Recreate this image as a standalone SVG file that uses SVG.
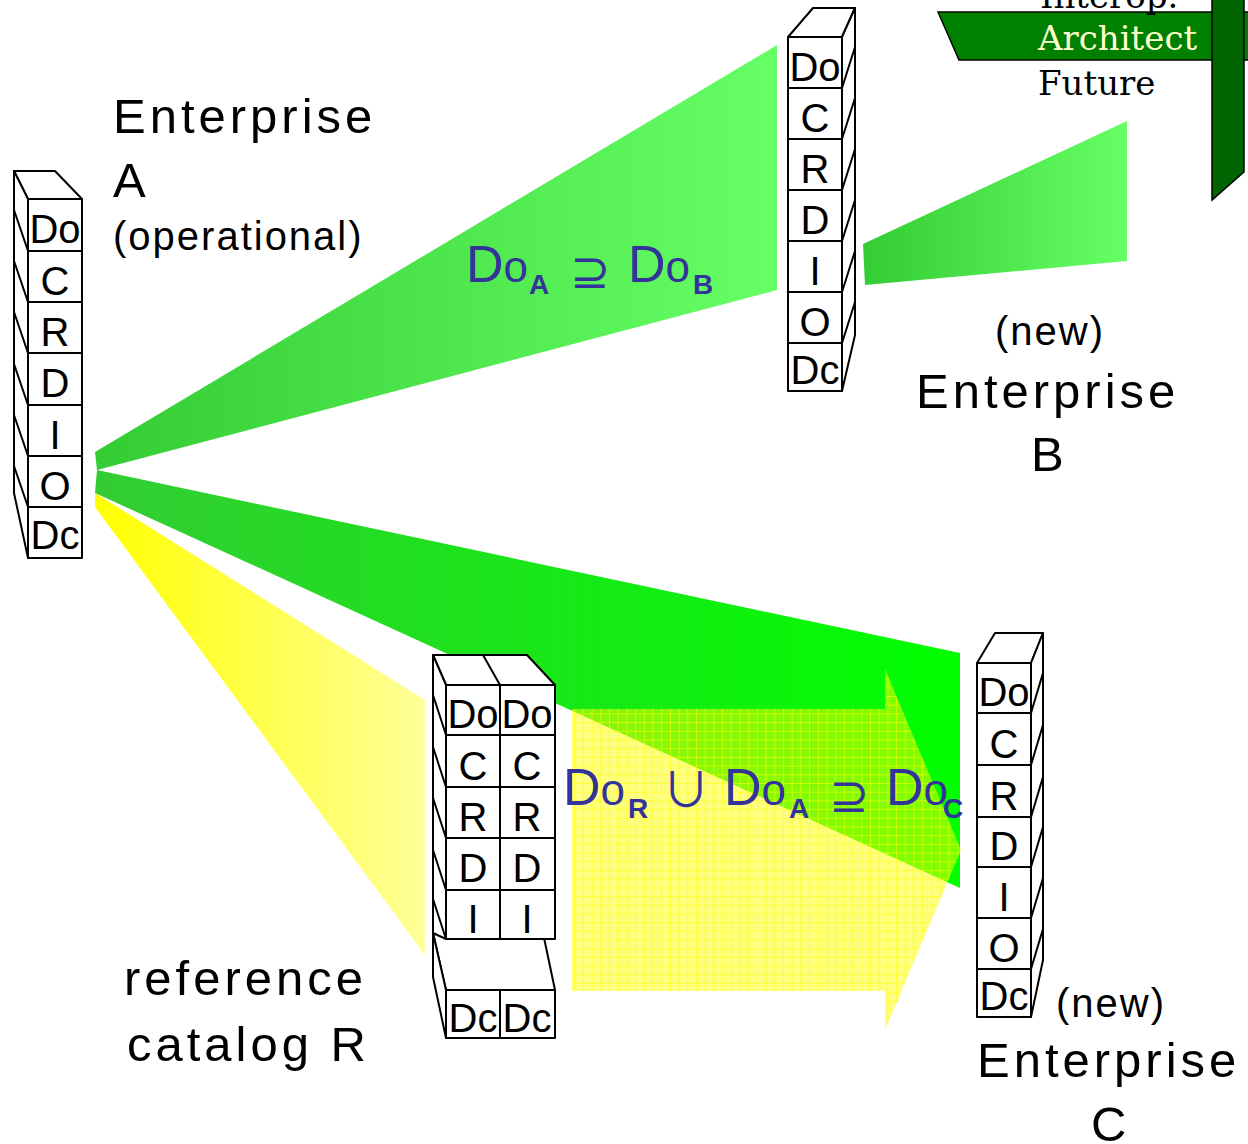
<svg xmlns="http://www.w3.org/2000/svg" width="1248" height="1144" viewBox="0 0 1248 1144">
  <defs>
    <linearGradient id="gAB" gradientUnits="userSpaceOnUse" x1="95" y1="0" x2="777" y2="0">
      <stop offset="0" stop-color="#33cc33"/>
      <stop offset="1" stop-color="#66ff66"/>
    </linearGradient>
    <linearGradient id="gAC" gradientUnits="userSpaceOnUse" x1="95" y1="0" x2="960" y2="0">
      <stop offset="0" stop-color="#33cc33"/>
      <stop offset="1" stop-color="#00ff00"/>
    </linearGradient>
    <linearGradient id="gAR" gradientUnits="userSpaceOnUse" x1="95" y1="0" x2="425" y2="0">
      <stop offset="0" stop-color="#ffff00"/>
      <stop offset="1" stop-color="#ffff99"/>
    </linearGradient>
    <linearGradient id="gBF" gradientUnits="userSpaceOnUse" x1="863" y1="0" x2="1127" y2="0">
      <stop offset="0" stop-color="#33cc33"/>
      <stop offset="1" stop-color="#66ff66"/>
    </linearGradient>
    <pattern id="grid" patternUnits="userSpaceOnUse" width="8.7" height="8.7">
      <rect width="8.7" height="8.7" fill="#ffff00" fill-opacity="0.5"/>
      <path d="M0 0.5H8.7M0.5 0V8.7" stroke="#ffff00" stroke-width="1" stroke-opacity="0.6" fill="none"/>
    </pattern>
  </defs>
  <style>
    .face { fill: #ffffff; stroke: #000000; stroke-width: 2; stroke-linejoin: round; }
    .ln { stroke: #000000; stroke-width: 2; fill: none; }
    .cl { font-family: "Liberation Sans", Arial, sans-serif; font-size: 40px; fill: #000000; text-anchor: middle; }
    .lbl { font-family: "Liberation Sans", Arial, sans-serif; font-size: 49px; fill: #000000; letter-spacing: 4px; }
    .sm { font-family: "Liberation Sans", Arial, sans-serif; font-size: 40px; fill: #000000; letter-spacing: 2px; }
    .fm { font-family: "Liberation Sans", Arial, sans-serif; font-size: 52px; fill: #333399; }
    .fo { font-size: 44px; }
    .sub { font-family: "Liberation Sans", Arial, sans-serif; font-size: 28px; font-weight: bold; fill: #333399; }
    .sym { font-family: "DejaVu Sans", sans-serif; font-size: 48px; fill: #333399; }
    .cup { font-family: "Noto Sans CJK JP", "DejaVu Sans", sans-serif; font-size: 48px; fill: #333399; }
    .ser { font-family: "DejaVu Serif", "Liberation Serif", serif; font-size: 34px; }
  </style>

  <rect width="1248" height="1144" fill="#ffffff"/>

  <!-- beams between the enterprises and the catalog -->
  <g id="connectors">
    <polygon id="beam-a-b" points="95,452 777,45 777,290 97,470" fill="url(#gAB)"/>
    <polygon id="beam-a-c" points="97,470 960,653 960,888 95,493" fill="url(#gAC)"/>
    <polygon id="beam-a-r" points="95,493 425,700 425,955 95,507" fill="url(#gAR)"/>
    <polygon id="beam-b-future" points="863,244 1127,121 1127,261 865,285" fill="url(#gBF)"/>
    <polygon id="arrow-r-c" points="572,709 885,709 885,669 961,850 885,1030 885,991 572,991" fill="url(#grid)"/>
  </g>

  <!-- Enterprise A stack, side face on the left -->
  <g id="stack-a">
    <polygon class="face" points="14,171 55,171 82,199 28,199"/>
    <polygon class="face" points="14,171 28,199 28,558 14,493"/>
    <path class="ln" d="M14,210L28,251M14,261L28,302M14,312L28,353M14,364L28,405M14,415L28,456M14,466L28,507"/>
    <rect class="face" x="28" y="199" width="54" height="52"/>
    <rect class="face" x="28" y="251" width="54" height="51"/>
    <rect class="face" x="28" y="302" width="54" height="51"/>
    <rect class="face" x="28" y="353" width="54" height="52"/>
    <rect class="face" x="28" y="405" width="54" height="51"/>
    <rect class="face" x="28" y="456" width="54" height="51"/>
    <rect class="face" x="28" y="507" width="54" height="51"/>
    <text class="cl" x="55" y="243">Do</text>
    <text class="cl" x="55" y="295">C</text>
    <text class="cl" x="55" y="346">R</text>
    <text class="cl" x="55" y="397">D</text>
    <text class="cl" x="55" y="449">I</text>
    <text class="cl" x="55" y="500">O</text>
    <text class="cl" x="55" y="549">Dc</text>
  </g>

  <!-- Enterprise B stack, side face on the right -->
  <g id="stack-b">
    <polygon class="face" points="788,37 813,8 855,8 842,37"/>
    <polygon class="face" points="842,37 855,8 855,335 842,391"/>
    <path class="ln" d="M842,88L855,47M842,139L855,98M842,190L855,149M842,241L855,200M842,292L855,251M842,343L855,302"/>
    <rect class="face" x="788" y="37" width="54" height="51"/>
    <rect class="face" x="788" y="88" width="54" height="51"/>
    <rect class="face" x="788" y="139" width="54" height="51"/>
    <rect class="face" x="788" y="190" width="54" height="51"/>
    <rect class="face" x="788" y="241" width="54" height="51"/>
    <rect class="face" x="788" y="292" width="54" height="51"/>
    <rect class="face" x="788" y="343" width="54" height="48"/>
    <text class="cl" x="815" y="81">Do</text>
    <text class="cl" x="815" y="132">C</text>
    <text class="cl" x="815" y="183">R</text>
    <text class="cl" x="815" y="234">D</text>
    <text class="cl" x="815" y="285">I</text>
    <text class="cl" x="815" y="336">O</text>
    <text class="cl" x="815" y="384">Dc</text>
  </g>

  <!-- Enterprise C stack, side face on the right -->
  <g id="stack-c">
    <polygon class="face" points="977,663 995,633 1043,633 1031,663"/>
    <polygon class="face" points="1031,663 1043,633 1043,960 1031,1017"/>
    <path class="ln" d="M1031,713L1043,673M1031,765L1043,725M1031,817L1043,777M1031,867L1043,827M1031,918L1043,878M1031,969L1043,929"/>
    <rect class="face" x="977" y="663" width="54" height="50"/>
    <rect class="face" x="977" y="713" width="54" height="52"/>
    <rect class="face" x="977" y="765" width="54" height="52"/>
    <rect class="face" x="977" y="817" width="54" height="50"/>
    <rect class="face" x="977" y="867" width="54" height="51"/>
    <rect class="face" x="977" y="918" width="54" height="51"/>
    <rect class="face" x="977" y="969" width="54" height="48"/>
    <text class="cl" x="1004" y="706">Do</text>
    <text class="cl" x="1004" y="758">C</text>
    <text class="cl" x="1004" y="810">R</text>
    <text class="cl" x="1004" y="860">D</text>
    <text class="cl" x="1004" y="911">I</text>
    <text class="cl" x="1004" y="962">O</text>
    <text class="cl" x="1004" y="1010">Dc</text>
  </g>

  <!-- reference catalog R: two columns, Dc box set apart below -->
  <g id="stack-r">
    <polygon class="face" points="433,933 543,933 555,990 446,990"/>
    <polygon class="face" points="433,933 446,990 446,1038 433,977"/>
    <rect class="face" x="446" y="990" width="54" height="48"/>
    <rect class="face" x="500" y="990" width="55" height="48"/>
    <text class="cl" x="473" y="1032">Dc</text>
    <text class="cl" x="527" y="1032">Dc</text>

    <polygon class="face" points="433,655 527,655 555,685 446,685"/>
    <line class="ln" x1="483" y1="655" x2="500" y2="685"/>
    <polygon class="face" points="433,655 446,685 446,939 433,933"/>
    <path class="ln" d="M433,695L446,735M433,747L446,787M433,798L446,838M433,850L446,890M433,899L446,939"/>
    <rect class="face" x="446" y="685" width="54" height="50"/>
    <rect class="face" x="500" y="685" width="55" height="50"/>
    <rect class="face" x="446" y="735" width="54" height="52"/>
    <rect class="face" x="500" y="735" width="55" height="52"/>
    <rect class="face" x="446" y="787" width="54" height="51"/>
    <rect class="face" x="500" y="787" width="55" height="51"/>
    <rect class="face" x="446" y="838" width="54" height="52"/>
    <rect class="face" x="500" y="838" width="55" height="52"/>
    <rect class="face" x="446" y="890" width="54" height="49"/>
    <rect class="face" x="500" y="890" width="55" height="49"/>
    <text class="cl" x="473" y="728">Do</text>
    <text class="cl" x="527" y="728">Do</text>
    <text class="cl" x="473" y="780">C</text>
    <text class="cl" x="527" y="780">C</text>
    <text class="cl" x="473" y="831">R</text>
    <text class="cl" x="527" y="831">R</text>
    <text class="cl" x="473" y="882">D</text>
    <text class="cl" x="527" y="882">D</text>
    <text class="cl" x="473" y="933">I</text>
    <text class="cl" x="527" y="933">I</text>
  </g>

  <!-- corner banner -->
  <g id="banner">
    <polygon points="938,12 1250,12 1250,60 959,60" fill="#008000" stroke="#000000" stroke-width="1.5"/>
    <polygon points="1212,-2 1244,-2 1244,172 1212,200" fill="#006400" stroke="#000000" stroke-width="1.5"/>
    <text class="ser" x="1040" y="8" fill="#000000">Interop.</text>
    <text class="ser" x="1038" y="50" fill="#ffffcc">Architect</text>
    <text class="ser" x="1038" y="95" fill="#000000" font-size="35">Future</text>
  </g>

  <!-- node labels -->
  <g id="label-a">
    <text class="lbl" x="113" y="133">Enterprise</text>
    <text class="lbl" x="113" y="197">A</text>
    <text class="sm" x="113" y="250">(operational)</text>
  </g>
  <g id="label-b">
    <text class="sm" x="995" y="345" letter-spacing="0.5">(new)</text>
    <text class="lbl" x="916" y="408">Enterprise</text>
    <text class="lbl" x="1031" y="471">B</text>
  </g>
  <g id="label-c">
    <text class="sm" x="1056" y="1017" letter-spacing="0.5">(new)</text>
    <text class="lbl" x="977" y="1077">Enterprise</text>
    <text class="lbl" x="1091" y="1141">C</text>
  </g>
  <g id="label-r">
    <text class="lbl" x="124" y="995" letter-spacing="5">reference</text>
    <text class="lbl" x="127" y="1061" letter-spacing="4.5">catalog  R</text>
  </g>

  <!-- set relations -->
  <g id="formula-b">
    <text class="fm" x="466" y="282">D<tspan class="fo">o</tspan></text>
    <text class="sub" x="529" y="294">A</text>
    <text class="sym" x="570" y="288">⊇</text>
    <text class="fm" x="628" y="282">D<tspan class="fo">o</tspan></text>
    <text class="sub" x="693" y="294">B</text>
  </g>
  <g id="formula-c">
    <text class="fm" x="563" y="805">D<tspan class="fo">o</tspan></text>
    <text class="sub" x="628" y="818">R</text>
    <text class="cup" x="662" y="807">∪</text>
    <text class="fm" x="724" y="805">D<tspan class="fo">o</tspan></text>
    <text class="sub" x="789" y="818">A</text>
    <text class="sym" x="829" y="812">⊇</text>
    <text class="fm" x="886" y="805">D<tspan class="fo">o</tspan></text>
    <text class="sub" x="943" y="818">C</text>
  </g>
</svg>
